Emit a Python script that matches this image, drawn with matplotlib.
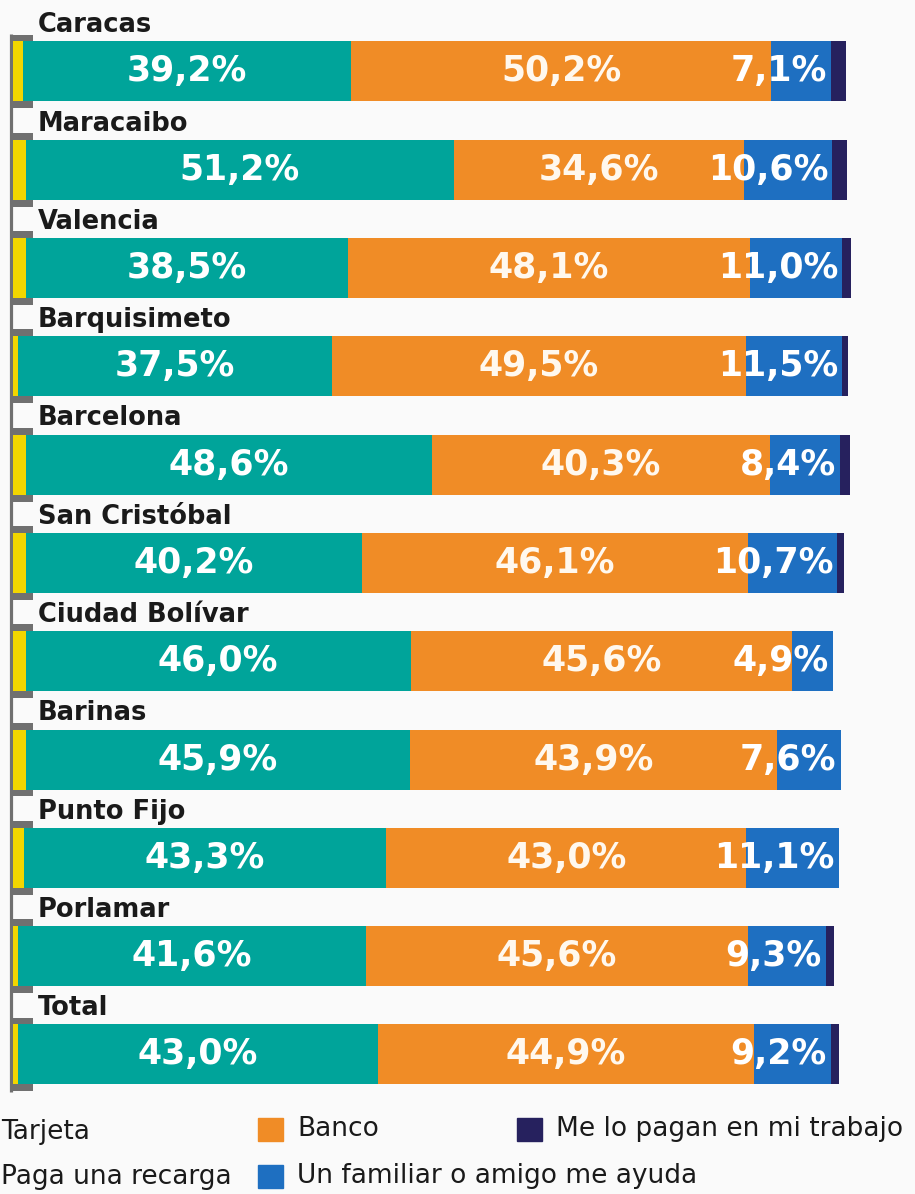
import matplotlib
matplotlib.use("Agg")
import matplotlib.pyplot as plt
from matplotlib.patches import Rectangle

cities = ["Caracas", "Maracaibo", "Valencia", "Barquisimeto", "Barcelona",
          "San Cristóbal", "Ciudad Bolívar", "Barinas", "Punto Fijo",
          "Porlamar", "Total"]
tarjeta = [1.2, 1.5, 1.5, 0.6, 1.5, 1.5, 1.5, 1.5, 1.3, 0.6, 0.6]
recarga = [39.2, 51.2, 38.5, 37.5, 48.6, 40.2, 46.0, 45.9, 43.3, 41.6, 43.0]
banco = [50.2, 34.6, 48.1, 49.5, 40.3, 46.1, 45.6, 43.9, 43.0, 45.6, 44.9]
familiar = [7.1, 10.6, 11.0, 11.5, 8.4, 10.7, 4.9, 7.6, 11.1, 9.3, 9.2]
trabajo = [1.8, 1.8, 1.0, 0.7, 1.2, 0.8, 0.0, 0.0, 0.0, 1.0, 1.0]

series_names = ["Tarjeta", "Paga una recarga", "Banco",
                "Un familiar o amigo me ayuda", "Me lo pagan en mi trabajo"]
colors = ["#f2d600", "#00a49a", "#f08c26", "#1e6fc1", "#26215e"]
gray = "#707070"
dark = "#1a1a1a"

W, H = 915, 1194
fig = plt.figure(figsize=(W / 100, H / 100), dpi=100)
fig.patch.set_facecolor("#fafafa")
ax = fig.add_axes([13 / W, 0, 837 / W, 1])
ax.set_xlim(0, 100)
ax.set_ylim(11.42, -0.727)
ax.axis("off")

rows = list(range(len(cities)))
bh = 0.61

# gray bracket behind the bars
ax.barh(rows, 2.75, left=-0.36, height=bh + 0.14, color=gray, zorder=1,
        clip_on=False)
ax.vlines(-0.18, -0.38, 10.38, color=gray, lw=2.3, zorder=1, clip_on=False)

left = [0.0] * len(cities)
for vals, c in zip([tarjeta, recarga, banco, familiar, trabajo], colors):
    ax.barh(rows, vals, left=left, height=bh, color=c, zorder=2,
            clip_on=False)
    left = [l + v for l, v in zip(left, vals)]


def fmt(v):
    return f"{v:.1f}".replace(".", ",") + "%"


for i in rows:
    ax.text(3.0, i - 0.47, cities[i], fontsize=18.5, fontweight="bold",
            color=dark, va="center", ha="left", zorder=3)
    x0 = tarjeta[i]
    ax.text(x0 + recarga[i] / 2, i, fmt(recarga[i]), color="white",
            fontsize=25, fontweight="bold", ha="center", va="center", zorder=3)
    x1 = x0 + recarga[i]
    ax.text(x1 + banco[i] / 2, i, fmt(banco[i]), color="#fff8ee",
            fontsize=25, fontweight="bold", ha="center", va="center", zorder=3)
    x2 = x1 + banco[i] + familiar[i]
    ax.text(x2 - 0.5, i, fmt(familiar[i]), color="white",
            fontsize=25, fontweight="bold", ha="right", va="center", zorder=3)

# legend, drawn by hand (squares of the left column run off the picture)
legend_pos = [(-38, 1132), (-38, 1177), (258, 1129), (258, 1176), (517, 1129)]
for name, c, (px, py) in zip(series_names, colors, legend_pos):
    fig.add_artist(Rectangle((px / W, 1 - (py + 12) / H), 25 / W, 23 / H,
                             transform=fig.transFigure, color=c))
    fig.text((px + 39) / W, 1 - py / H, name, fontsize=19, color=dark,
             ha="left", va="center")

fig.savefig("out.png", dpi=100, facecolor=fig.get_facecolor())
